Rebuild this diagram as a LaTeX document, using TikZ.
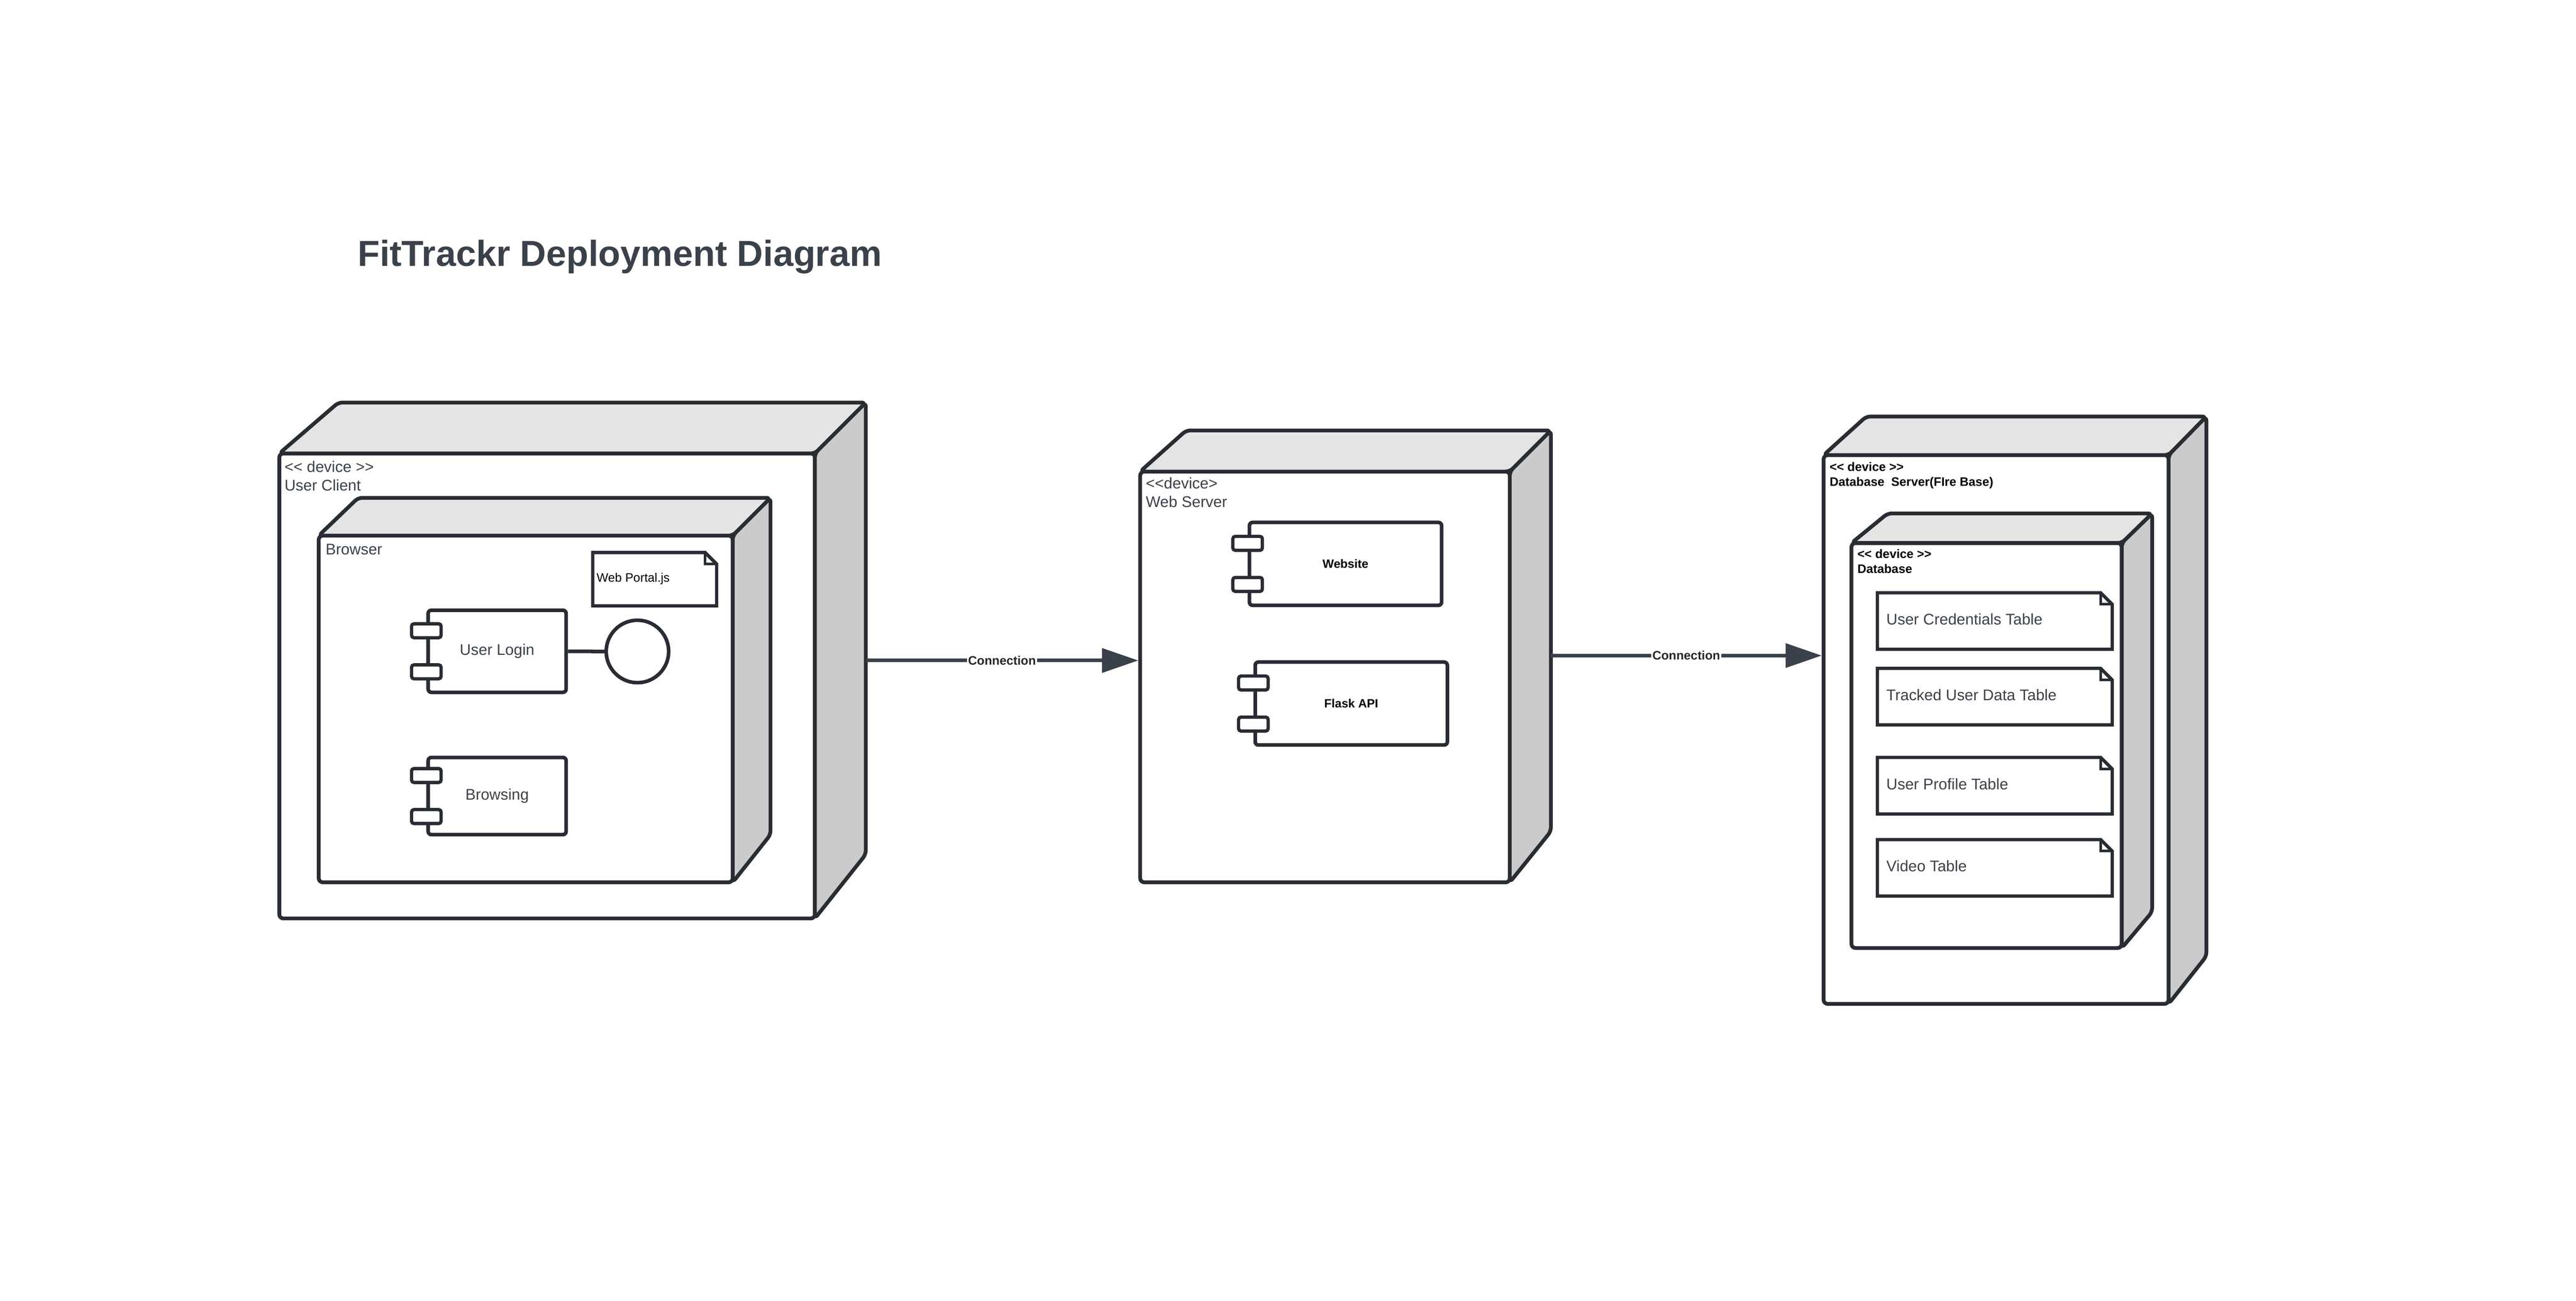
\documentclass[tikz,border=0pt]{standalone}
\usepackage{fontspec}
\setmainfont{Liberation Sans}[Ligatures=TeXOff]
\usetikzlibrary{arrows.meta}

\definecolor{lineDark}{HTML}{282C33}
\definecolor{textGray}{HTML}{3A414A}
\definecolor{topGray}{HTML}{E4E4E4}
\definecolor{sideGray}{HTML}{CBCBCB}

\tikzset{
  devfront/.style={draw=lineDark, line width=2.3pt, rounded corners=2.5pt, fill=white, inner sep=0pt},
  devtop/.style={draw=lineDark, line width=2.3pt, rounded corners=2.5pt, line join=round, fill=topGray},
  devside/.style={draw=lineDark, line width=2.3pt, rounded corners=2.5pt, line join=round, fill=sideGray},
  comp/.style={draw=lineDark, line width=2.2pt, rounded corners=2pt, fill=white, inner sep=0pt},
  port/.style={draw=lineDark, line width=2pt, rounded corners=1.5pt, fill=white, minimum width=18pt, minimum height=8.5pt, inner sep=0pt},
  docnote/.style={inner sep=0pt},
  noteline/.style={draw=lineDark, line width=2pt, fill=white},
  lbl/.style={text=textGray, font=\fontsize{9.4}{11.3}\selectfont, inner sep=0pt, align=left},
  blbl/.style={text=black, font=\fontsize{7.5}{9.1}\selectfont\bfseries, inner sep=0pt, align=left},
  conn/.style={draw=textGray, line width=2.2pt, -{Triangle[length=22pt,width=14.5pt]}},
  connlbl/.style={fill=white, text=black!85, font=\fontsize{7.5}{8}\selectfont\bfseries, inner sep=0.8pt},
}

\begin{document}
\begin{tikzpicture}[x=1pt,y=1pt,yscale=-1,xscale=1]
\useasboundingbox (0,0) rectangle (1568,791.6);

% Text Node
\node[anchor=base west, inner sep=0pt, text=textGray, font=\fontsize{22}{26}\selectfont\bfseries] (title) at (217.5,162.1) {FitTrackr Deployment Diagram};

%Shape: Cube [User Client]
\node[devfront, minimum width=326pt, minimum height=283pt] (client) at (333,417.5) {};
\draw[devtop] (170,276) -- (206,245) -- (527,245) -- (496,276) -- cycle;
\draw[devside] (496,276) -- (527,245) -- (527,520) -- (496,559) -- cycle;
% Text Node
\node[lbl, anchor=north west] (clientLbl) at (173,280.3) {<< device >>\\User Client};

%Shape: Cube [Browser]
\node[devfront, minimum width=252pt, minimum height=211pt] (browser) at (320,431.5) {};
\draw[devtop] (194,326) -- (218,303) -- (469,303) -- (446,326) -- cycle;
\draw[devside] (446,326) -- (469,303) -- (469,508) -- (446,537) -- cycle;
% Text Node
\node[lbl, anchor=base west] (browserLbl) at (198,337.7) {Browser};

%Shape: Document [Web Portal.js]
\node[docnote, minimum width=75pt, minimum height=32pt] (portal) at (398.5,352.5) {};

%Shape: Component [User Login / Browsing]
\node[comp, lbl, minimum width=84pt, minimum height=50pt] (login) at (302.6,396.4) {User Login};
\node[comp, lbl, minimum width=84pt, minimum height=47pt] (browsing) at (302.6,484.5) {Browsing};
%Shape: Circle [interface]
\node[draw=lineDark, line width=2.2pt, circle, fill=white, minimum size=38pt, inner sep=0pt] (loginIf) at (388,396.5) {};
\draw[draw=lineDark, line width=2.2pt] (login.east) -- (loginIf.west);

%Shape: Cube [Web Server]
\node[devfront, minimum width=225pt, minimum height=250pt] (server) at (806.5,412) {};
\draw[devtop] (694,287) -- (722,262) -- (944,262) -- (919,287) -- cycle;
\draw[devside] (919,287) -- (944,262) -- (944,506) -- (919,537) -- cycle;
% Text Node
\node[lbl, anchor=north west] (serverLbl) at (697.3,290.5) {<<device>\\Web Server};

%Shape: Component [Website / Flask API]
\node[comp, text=black, font=\fontsize{7.3}{9}\selectfont\bfseries, minimum width=117pt, minimum height=50.5pt] (website) at (819,343.2) {Website};
\node[comp, text=black, font=\fontsize{7.3}{9}\selectfont\bfseries, minimum width=117pt, minimum height=50.5pt] (flask) at (822.5,428.2) {Flask API};

%Shape: Cube [Database Server]
\node[devfront, minimum width=210pt, minimum height=334pt] (dbserver) at (1215,444) {};
\draw[devtop] (1110,277) -- (1136,253.5) -- (1343,253.5) -- (1320,277) -- cycle;
\draw[devside] (1320,277) -- (1343,253.5) -- (1343,582) -- (1320,611) -- cycle;
% Text Node
\node[blbl, anchor=north west] (dbserverLbl) at (1113.5,281) {<< device >>\\Database\ \ Server(FIre Base)};

%Shape: Cube [Database]
\node[devfront, minimum width=164.5pt, minimum height=246.5pt] (database) at (1209.2,453.75) {};
\draw[devtop] (1127,330.5) -- (1149,312.5) -- (1310,312.5) -- (1291.5,330.5) -- cycle;
\draw[devside] (1291.5,330.5) -- (1310,312.5) -- (1310,555) -- (1291.5,577) -- cycle;
% Text Node
\node[blbl, anchor=north west] (databaseLbl) at (1130.4,334) {<< device >>\\Database};

%Shape: Document [tables]
\node[docnote, minimum width=142.5pt, minimum height=34pt] (tcred) at (1214.2,378) {};
\node[docnote, minimum width=142.5pt, minimum height=34pt] (ttrack) at (1214.2,424) {};
\node[docnote, minimum width=142.5pt, minimum height=34pt] (tprof) at (1214.2,478.2) {};
\node[docnote, minimum width=142.5pt, minimum height=34pt] (tvideo) at (1214.2,528.2) {};

% document outlines with folded corner (yshift follows yscale=-1, so +7 is down)
\foreach \n in {portal,tcred,ttrack,tprof,tvideo}{
  \draw[noteline] (\n.north west) -- ([xshift=-7pt]\n.north east) -- ([yshift=7pt]\n.north east) -- (\n.south east) -- (\n.south west) -- cycle;
  \draw[draw=lineDark, line width=1.6pt] ([xshift=-7pt]\n.north east) -- ([xshift=-7pt,yshift=7pt]\n.north east) -- ([yshift=7pt]\n.north east);
}
% Text Node
\node[anchor=base west, inner sep=0pt, font=\fontsize{7.5}{9}\selectfont] (portalTxt) at (363,354.3) {Web Portal.js};
\node[lbl, anchor=west] (tcredLbl) at (1148,377) {User Credentials Table};
\node[lbl, anchor=west] (ttrackLbl) at (1148,423) {Tracked User Data Table};
\node[lbl, anchor=west] (tprofLbl) at (1148,477.2) {User Profile Table};
\node[lbl, anchor=west] (tvideoLbl) at (1148,527.2) {Video Table};

% ports on components
\foreach \c in {login,browsing,website,flask}{
  \node[port] (\c-pa) at ([yshift=12.5pt]\c.west) {};
  \node[port] (\c-pb) at ([yshift=-12.5pt]\c.west) {};
}

% connectors
\coordinate (clientSide) at (527,402);
\coordinate (serverSide) at (944,399);
\draw[conn] (clientSide) -- (server.west |- clientSide) node[midway, connlbl] (conn1) {Connection};
\draw[conn] (serverSide) -- (dbserver.west |- serverSide) node[midway, connlbl] (conn2) {Connection};

\end{tikzpicture}
\end{document}
